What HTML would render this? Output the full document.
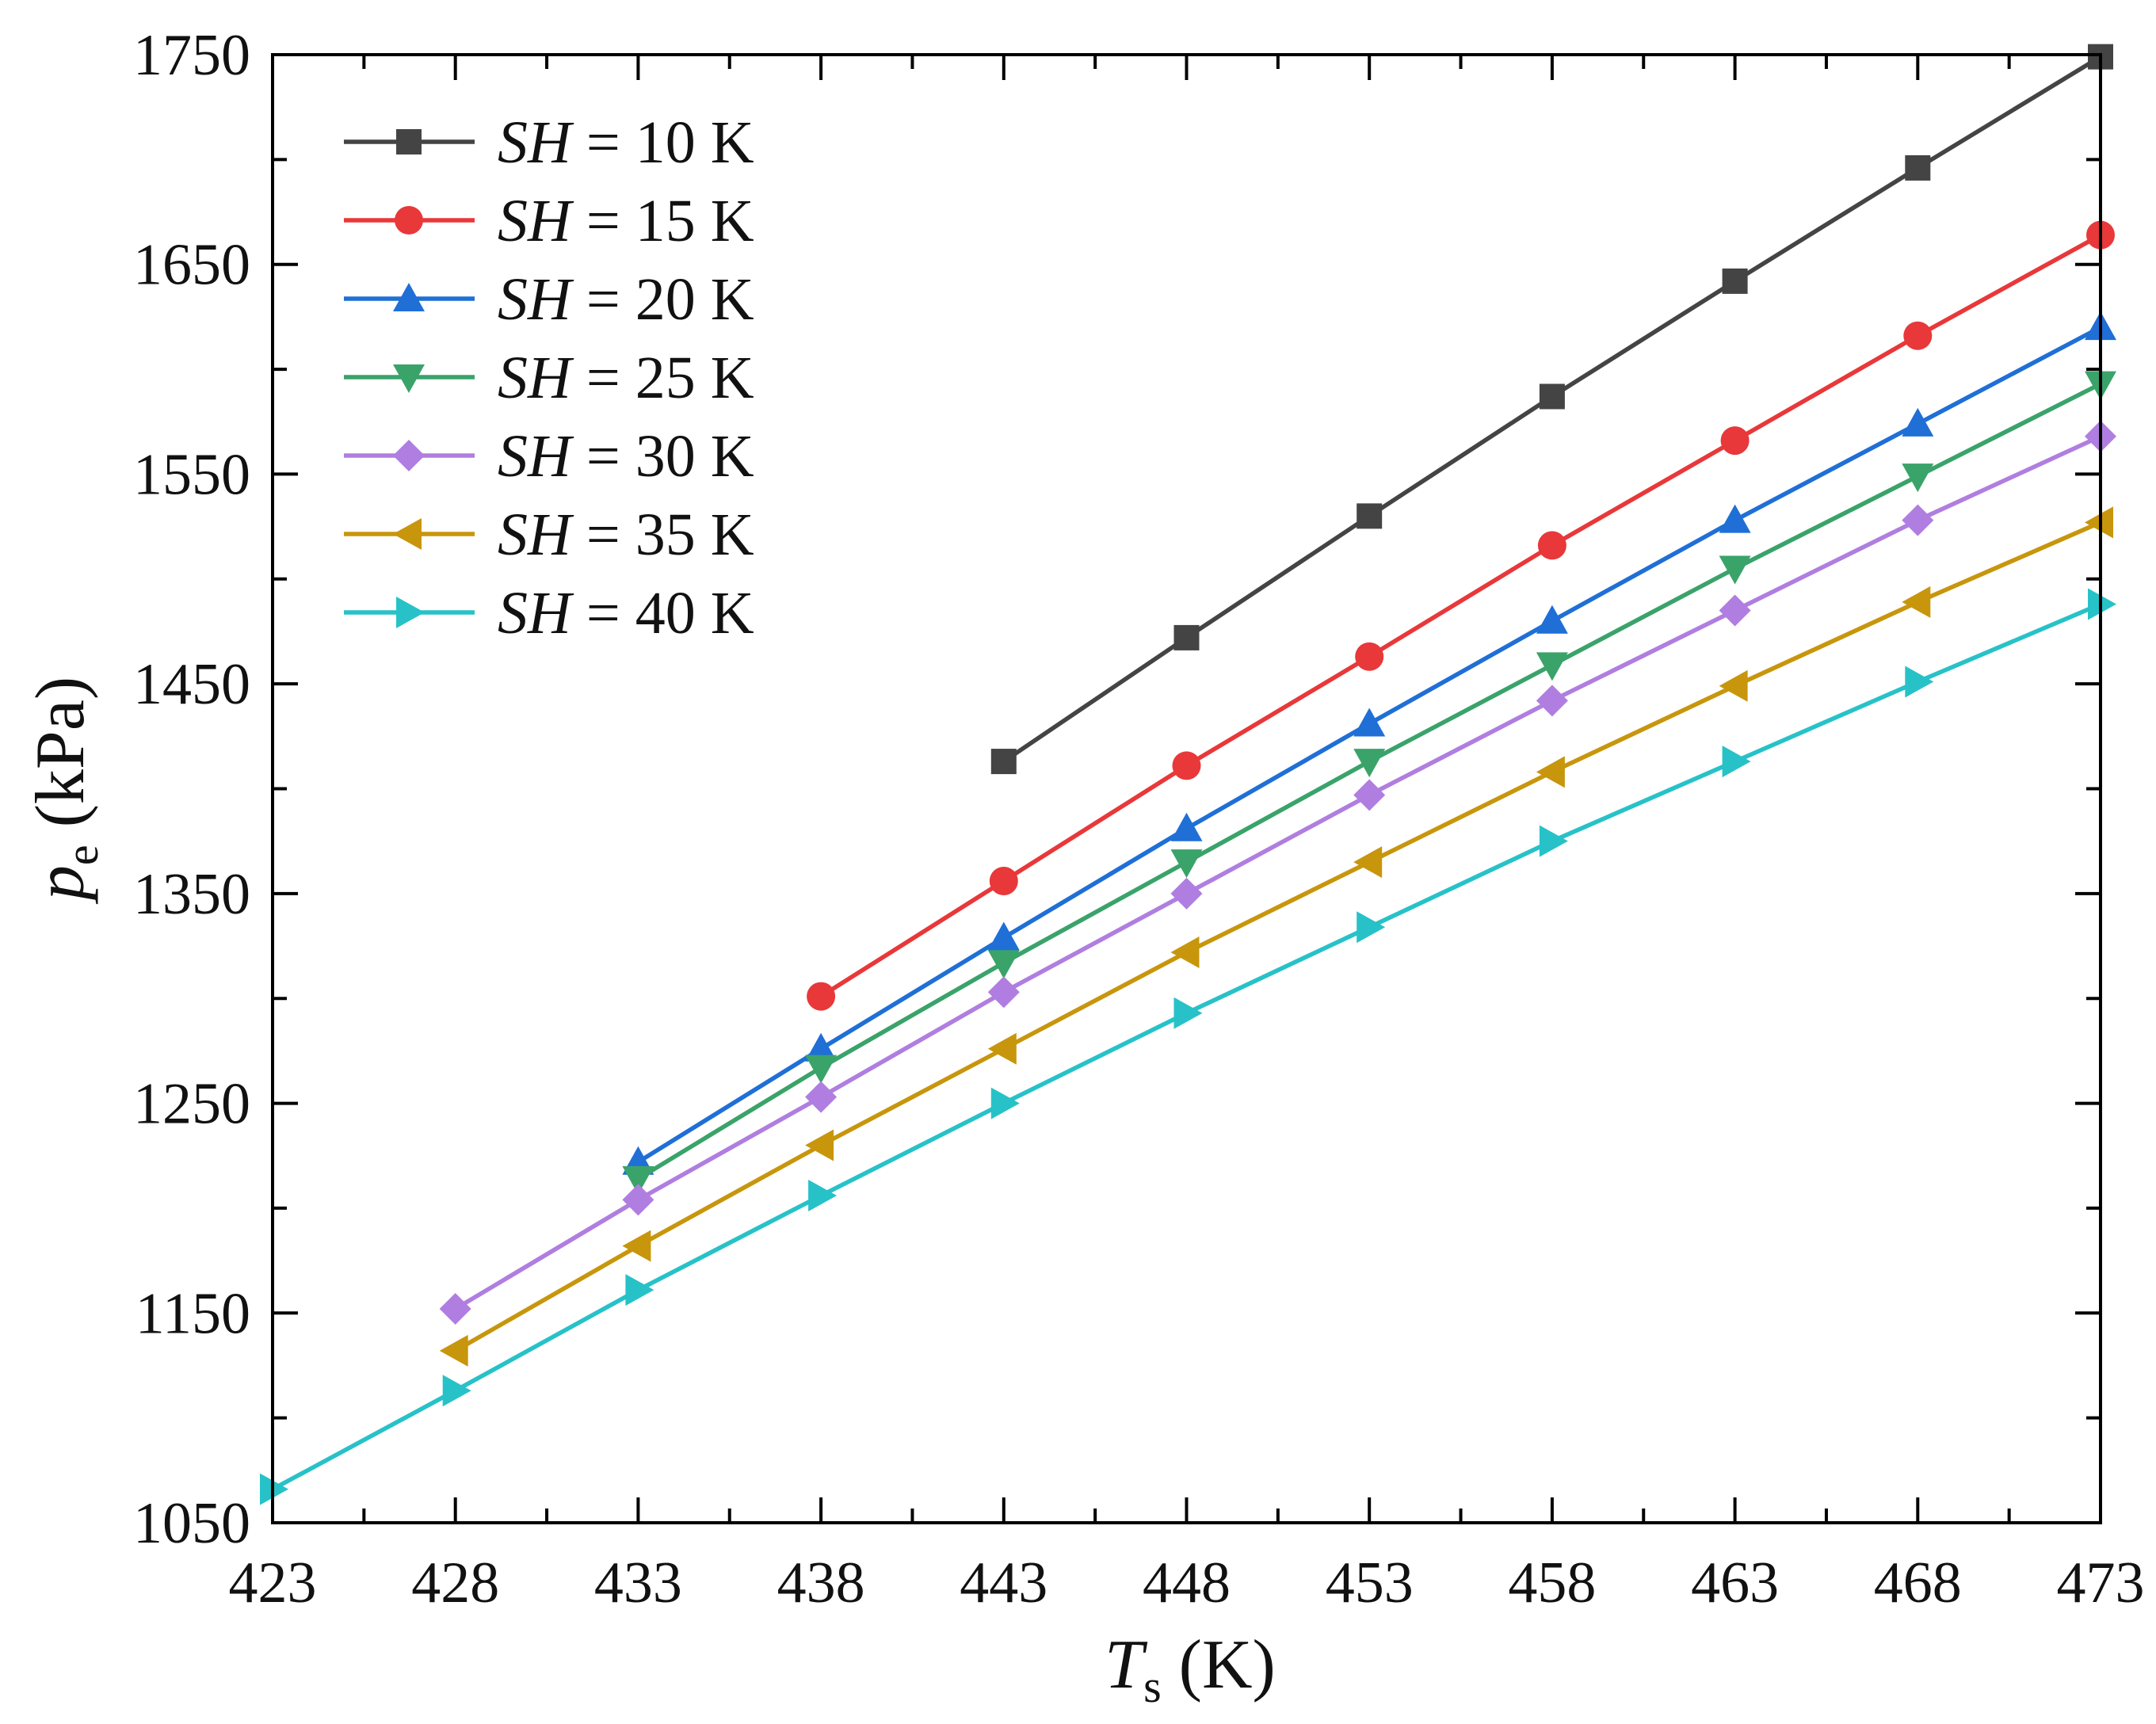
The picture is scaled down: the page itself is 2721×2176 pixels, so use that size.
<!DOCTYPE html>
<html><head><meta charset="utf-8"><style>
html,body{margin:0;padding:0;background:#fff;}
svg{display:block;}
text{font-family:"Liberation Serif",serif;fill:#111;}
</style></head><body>
<svg id="chart" width="2721" height="2176" viewBox="0 0 2721 2176" xmlns="http://www.w3.org/2000/svg"></svg>
<script>
const xTicks = [423,428,433,438,443,448,453,458,463,468,473];
const yTicks = [1050,1150,1250,1350,1450,1550,1650,1750];
const seriesLabels = ["10","15","20","25","30","35","40"];
const seriesColors = ["#444444","#e8383a","#1f6fd6","#3aa36a","#b07ee0","#c8960c","#27c2c8"];
const seriesMarkers = ["square","circle","up","down","diamond","left","right"];
const xs10 = [443,448,453,458,463,468,473];
const ys10 = [1413,1472,1530,1587,1642,1696,1749];
const xs15 = [438,443,448,453,458,463,468,473];
const ys15 = [1301,1356,1411,1463,1516,1566,1616,1664];
const xs20 = [433,438,443,448,453,458,463,468,473];
const ys20 = [1222,1276,1329,1381,1431,1480,1528,1574,1620];
const xs25 = [433,438,443,448,453,458,463,468,473];
const ys25 = [1214,1267,1317,1365,1413,1459,1505,1549,1593];
const xs30 = [428,433,438,443,448,453,458,463,468,473];
const ys30 = [1152,1204,1253,1303,1350,1397,1442,1485,1528,1568];
const xs35 = [428,433,438,443,448,453,458,463,468,473];
const ys35 = [1132,1182,1230,1276,1322,1365,1408,1449,1489,1527];
const xs40 = [423,428,433,438,443,448,453,458,463,468,473];
const ys40 = [1066,1113,1161,1206,1250,1293,1334,1375,1413,1451,1488];
const seriesX = [xs10,xs15,xs20,xs25,xs30,xs35,xs40];
const seriesY = [ys10,ys15,ys20,ys25,ys30,ys35,ys40];

const L=344,R=2651,T=69,B=1922;
const xMin=423,xMax=473,yMin=1050,yMax=1750;
function sx(v){return L+(v-xMin)/(xMax-xMin)*(R-L);}
function sy(v){return B-(v-yMin)/(yMax-yMin)*(B-T);}
const NS="http://www.w3.org/2000/svg";
const svg=document.getElementById('chart');
function mk(tag,attrs,parent){const e=document.createElementNS(NS,tag);for(const k in attrs)e.setAttribute(k,attrs[k]);(parent||svg).appendChild(e);return e;}

const gS=mk('g',{});


function marker(type,x,y,color,parent){
  const s=16;let e;
  if(type==='square')e=mk('rect',{x:x-s,y:y-s,width:2*s,height:2*s,fill:color},parent);
  else if(type==='circle')e=mk('circle',{cx:x,cy:y,r:s+2,fill:color},parent);
  else{
    const r=s+4;let p;
    if(type==='up')p=[[x,y-r],[x+r,y+r*0.8],[x-r,y+r*0.8]];
    else if(type==='down')p=[[x,y+r],[x+r,y-r*0.8],[x-r,y-r*0.8]];
    else if(type==='left')p=[[x-r,y],[x+r*0.8,y-r],[x+r*0.8,y+r]];
    else if(type==='right')p=[[x+r,y],[x-r*0.8,y-r],[x-r*0.8,y+r]];
    else p=[[x,y-r],[x+r,y],[x,y+r],[x-r,y]];
    e=mk('polygon',{points:p.map(q=>q.join(',')).join(' '),fill:color},parent);
  }
  return e;
}
for(let i=0;i<seriesX.length;i++){
  const g=mk('g',{},gS);
  
  
  const pts=seriesX[i].map((x,j)=>sx(x)+','+sy(seriesY[i][j])).join(' ');
  const pl=mk('polyline',{points:pts,fill:'none',stroke:seriesColors[i],'stroke-width':5.5},g);
  
  
  for(let j=0;j<seriesX[i].length;j++){
    const m=marker(seriesMarkers[i],sx(seriesX[i][j]),sy(seriesY[i][j]),seriesColors[i],g);
    
    
  }
}

const fr=mk('rect',{x:L,y:T,width:R-L,height:B-T,fill:'none',stroke:'#000','stroke-width':4});


const gx=mk('g',{});


for(let v=xMin;v<=xMax+0.01;v+=2.5){
  const major=Math.abs((v-xMin)%5)<0.01;const len=major?32:18;
  mk('line',{x1:sx(v),x2:sx(v),y1:B,y2:B-len,stroke:'#000','stroke-width':4},gx);
  mk('line',{x1:sx(v),x2:sx(v),y1:T,y2:T+len,stroke:'#000','stroke-width':4},gx);
}
xTicks.forEach(v=>{
  const t=mk('text',{x:sx(v),y:B+100,'font-size':74,'text-anchor':'middle'},gx);
  t.textContent=v;
  
  
});
const gy=mk('g',{});


for(let v=yMin;v<=yMax+0.01;v+=50){
  const major=Math.abs((v-yMin)%100)<0.01;const len=major?32:18;
  mk('line',{x1:L,x2:L+len,y1:sy(v),y2:sy(v),stroke:'#000','stroke-width':4},gy);
  mk('line',{x1:R,x2:R-len,y1:sy(v),y2:sy(v),stroke:'#000','stroke-width':4},gy);
}
yTicks.forEach(v=>{
  const t=mk('text',{x:L-28,y:sy(v)+25,'font-size':74,'text-anchor':'end'},gy);
  t.textContent=v;
  
  
});

const xt=mk('text',{x:1502,y:2130,'font-size':88,'text-anchor':'middle'});


xt.innerHTML='<tspan font-style="italic">T</tspan><tspan font-size="58" dy="18">s</tspan><tspan dy="-18"> (K)</tspan>';
const yt=mk('text',{x:0,y:0,'font-size':88,'text-anchor':'middle',transform:'translate(105,995) rotate(-90)'});


yt.innerHTML='<tspan font-style="italic">p</tspan><tspan font-size="58" dy="18">e</tspan><tspan dy="-18"> (kPa)</tspan>';

const gl=mk('g',{});


for(let i=0;i<seriesLabels.length;i++){
  const y=179+99*i;
  const g=mk('g',{},gl);
  
  
  mk('line',{x1:434,x2:599,y1:y,y2:y,stroke:seriesColors[i],'stroke-width':5.5},g);
  marker(seriesMarkers[i],516,y,seriesColors[i],g);
  const t=mk('text',{x:628,y:y+26,'font-size':76},g);
  t.innerHTML='<tspan font-style="italic">SH</tspan> = '+seriesLabels[i]+' K';
}
</script>
</body></html>
